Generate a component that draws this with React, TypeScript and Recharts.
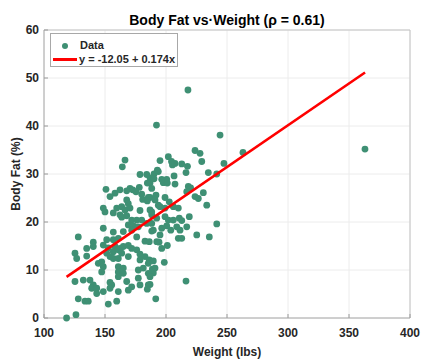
import {
  CartesianGrid,
  ReferenceLine,
  Scatter,
  ScatterChart,
  XAxis,
  YAxis,
} from "recharts";

// weight (lbs) / body fat (%)
const weights = [
  363.1, 218.0, 263.1, 192.2, 244.3, 247.5, 241.6, 234.7, 230.6, 233.4, 241.6, 235.5, 216.4, 225.2,
  223.8, 227.9, 229.3, 217.6, 212.9, 216.4, 207.4, 205.3, 204.5, 201.9, 195.1, 193.7, 190.2, 206.6,
  196.5, 200.6, 197.8, 207.4, 201.1, 186.9, 188.3, 218.3, 220.2, 217.0, 223.8, 226.5, 186.9, 191.8,
  191.0, 199.2, 202.7, 193.7, 186.9, 188.3, 199.2, 206.0, 210.1, 192.4, 199.2, 201.9, 206.0, 210.9,
  212.9, 219.1, 189.6, 196.5, 200.6, 203.9, 208.8, 211.5, 217.0, 210.1, 212.9, 194.3, 201.1, 196.5,
  198.6, 188.8, 189.6, 186.9, 191.6, 195.1, 166.4, 164.2, 178.7, 184.2, 192.9, 186.9, 184.7, 190.2,
  150.8, 158.2, 154.1, 162.3, 167.8, 170.5, 172.7, 178.1, 175.4, 180.1, 185.5, 180.9, 184.7, 167.8,
  169.1, 163.7, 159.6, 166.4, 170.5, 148.6, 150.0, 156.8, 162.3, 163.7, 167.8, 178.7, 188.3, 195.1,
  171.9, 176.0, 180.1, 184.2, 169.1, 173.2, 148.6, 188.3, 156.8, 165.0, 171.9, 177.3, 188.3, 128.1,
  140.4, 140.4, 151.4, 156.8, 160.9, 176.0, 182.8, 186.3, 192.4, 148.6, 152.7, 158.2, 162.3, 165.0,
  169.1, 171.9, 176.0, 135.0, 125.4, 126.8, 151.4, 156.8, 160.9, 163.7, 154.1, 156.8, 160.9, 169.1,
  178.7, 182.8, 186.3, 178.7, 185.5, 189.6, 144.5, 147.3, 148.6, 147.3, 160.9, 165.0, 160.9, 165.0,
  160.9, 177.3, 181.4, 185.5, 191.0, 186.9, 177.3, 125.4, 132.2, 137.7, 140.4, 139.1, 154.1, 155.5,
  154.1, 167.8, 171.9, 178.7, 185.5, 184.7, 143.2, 143.2, 148.6, 160.9, 169.1, 128.1, 133.6, 136.3,
  152.7, 159.6, 118.5, 126.2, 135.0,
];
const bodyFat = [
  35.2, 47.5, 34.5, 40.2, 38.1, 32.2, 30.0, 30.3, 26.1, 23.5, 19.6, 16.9, 7.7, 17.3,
  34.9, 34.3, 32.6, 31.6, 32.1, 30.3, 32.2, 31.9, 32.6, 33.6, 32.8, 30.5, 30.0, 29.6,
  28.9, 28.9, 28.2, 27.9, 28.1, 28.1, 27.0, 27.4, 27.1, 26.3, 25.3, 24.9, 25.1, 25.6,
  24.6, 25.1, 24.2, 23.5, 22.5, 21.5, 22.9, 23.2, 22.9, 20.8, 21.1, 20.4, 20.4, 20.8,
  20.3, 21.1, 18.3, 18.7, 19.2, 18.3, 19.0, 18.3, 19.0, 16.6, 16.6, 15.8, 15.1, 14.5,
  11.6, 10.2, 9.4, 7.0, 4.0, 17.3, 32.9, 31.5, 29.9, 29.9, 30.8, 29.2, 28.1, 29.0,
  26.8, 26.0, 25.3, 26.7, 26.5, 27.0, 26.7, 27.2, 26.3, 25.8, 25.1, 24.7, 24.4, 24.6,
  23.8, 23.2, 22.9, 22.5, 22.9, 22.9, 22.1, 21.9, 21.5, 21.0, 21.3, 22.4, 22.1, 23.2,
  20.4, 20.4, 20.4, 19.7, 19.4, 19.2, 18.7, 19.7, 17.9, 18.0, 18.3, 19.0, 18.1, 16.9,
  15.8, 14.9, 16.3, 16.3, 16.6, 16.9, 16.0, 15.9, 15.9, 15.2, 14.6, 14.9, 14.5, 14.9,
  15.1, 14.5, 14.2, 14.5, 13.5, 12.4, 13.5, 13.8, 14.2, 13.5, 12.8, 12.4, 12.4, 12.8,
  13.3, 12.8, 12.1, 12.1, 11.4, 11.9, 11.4, 11.7, 10.7, 9.6, 10.7, 10.4, 9.6, 9.3,
  8.6, 10.0, 10.4, 9.3, 10.4, 8.6, 8.3, 7.6, 7.9, 7.9, 6.9, 6.2, 7.4, 6.9,
  6.2, 7.6, 6.5, 6.9, 6.9, 6.0, 6.2, 5.1, 5.5, 5.5, 5.8, 4.0, 3.5, 3.5,
  2.9, 3.5, 0.0, 0.7, 12.9,
];

const intercept = -12.05;
const slope = 0.174;
const fitRange = [118.5, 363.15];

const xTicks = [100, 150, 200, 250, 300, 350, 400];
const yTicks = [0, 10, 20, 30, 40, 50, 60];

const points = weights.map((w, i) => ({ w, f: bodyFat[i] }));
const fitLine = fitRange.map((w) => ({ w, f: intercept + slope * w }));

const FONT = '"Liberation Sans", Arial, sans-serif';
const DOT = "#3f9074";
const TEXT = "#262626";

const XTick = (props: any) => {
  const { x, y, payload } = props;
  return (
    <g>
      <line x1={x} x2={x} y1={y} y2={y - 4} stroke="#9a9a9a" />
      <text x={x} y={y + 19} textAnchor="middle" fontSize={12} fontWeight="bold" fill={TEXT} fontFamily={FONT}>
        {payload.value}
      </text>
    </g>
  );
};

const YTick = (props: any) => {
  const { x, y, payload } = props;
  return (
    <g>
      <line x1={x} x2={x + 4} y1={y} y2={y} stroke="#9a9a9a" />
      <text x={x - 5} y={y + 4} textAnchor="end" fontSize={12} fontWeight="bold" fill={TEXT} fontFamily={FONT}>
        {payload.value}
      </text>
    </g>
  );
};

export default function App() {
  return (
    <div style={{ position: "absolute", left: 0, top: 0, width: 429, height: 364, background: "#fff", fontFamily: FONT }}>
      <ScatterChart width={429} height={364} margin={{ top: 30, right: 19, bottom: 0, left: 0 }}>
        <CartesianGrid stroke="#ececec" />
        <XAxis
          type="number"
          dataKey="w"
          domain={[100, 400]}
          ticks={xTicks}
          height={46}
          tickSize={0}
          tickMargin={0}
          tickLine={false}
          stroke="#a8a8a8"
          tick={<XTick />}
          label={{ value: "Weight (lbs)", position: "insideBottom", offset: 8, fontSize: 12, fontWeight: "bold", fill: TEXT }}
        />
        <YAxis
          type="number"
          dataKey="f"
          domain={[0, 60]}
          ticks={yTicks}
          width={44}
          tickSize={0}
          tickMargin={0}
          tickLine={false}
          stroke="#a8a8a8"
          tick={<YTick />}
          label={{ value: "Body Fat (%)", angle: -90, position: "insideLeft", offset: 16, fontSize: 12, fontWeight: "bold", fill: TEXT, style: { textAnchor: "middle" } }}
        />
        <ReferenceLine y={60} stroke="#c4c4c4" />
        <ReferenceLine x={400} stroke="#c4c4c4" />
        <Scatter data={points} fill={DOT} isAnimationActive={false} shape={(p: any) => <circle cx={p.cx} cy={p.cy} r={3.4} fill={DOT} />} />
        <Scatter
          data={fitLine}
          line={{ stroke: "#ff0000", strokeWidth: 2.6 }}
          lineType="joint"
          isAnimationActive={false}
          shape={() => <g />}
        />
      </ScatterChart>
      <div style={{ position: "absolute", left: 0, width: 454, top: 12, textAlign: "center", fontSize: 14, fontWeight: "bold", color: "#000", lineHeight: "16px" }}>
        Body Fat vs·Weight (ρ = 0.61)
      </div>
      <div
        style={{
          position: "absolute",
          left: 50,
          top: 33,
          width: 126,
          height: 32,
          border: "1px solid #a8a8a8",
          background: "#fff",
          fontSize: 11,
          fontWeight: "bold",
          color: TEXT,
          whiteSpace: "nowrap",
        }}
      >
        <div style={{ position: "absolute", left: 11, top: 9, width: 6, height: 6, borderRadius: 3, background: DOT }} />
        <div style={{ position: "absolute", left: 29, top: 5, lineHeight: "13px" }}>Data</div>
        <div style={{ position: "absolute", left: 2, top: 24, width: 24, height: 3, background: "#ff0000" }} />
        <div style={{ position: "absolute", left: 28, top: 19, lineHeight: "13px" }}>y = -12.05 + 0.174x</div>
      </div>
    </div>
  );
}
